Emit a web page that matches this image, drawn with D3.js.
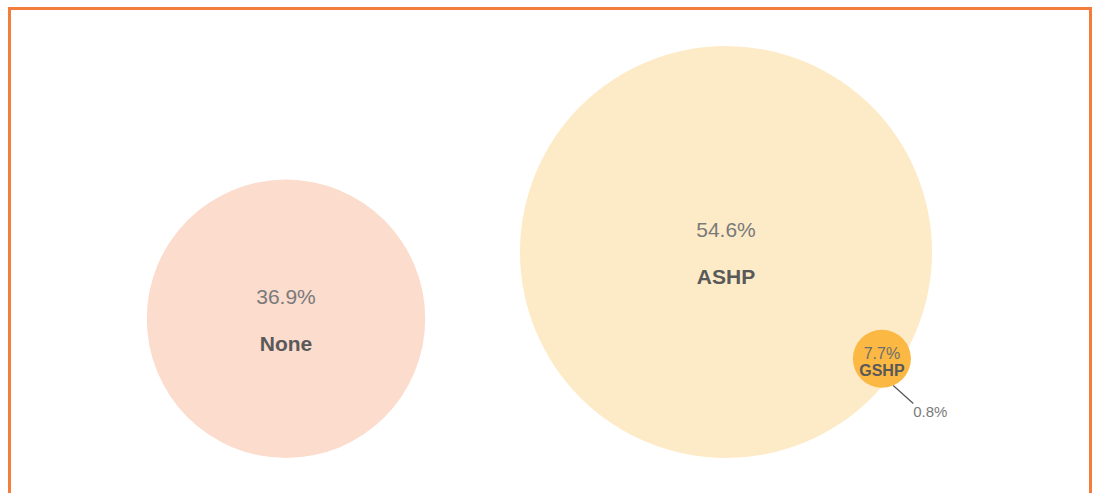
<!DOCTYPE html>
<html lang="en">
<head>
<meta charset="utf-8">
<title>Heat pump share</title>
<script src="https://d3js.org/d3.v7.min.js"></script>
<style>
  html, body { margin: 0; padding: 0; background: #fff; }
  svg { display: block; font-family: "Liberation Sans", Arial, Helvetica, sans-serif; }
</style>
</head>
<body>
<div id="chart"></div>
<script>
// data
var categories = ["None", "ASHP", "GSHP"];
var shares = [36.9, 54.6, 7.7];
var overlapShare = 0.8;   // GSHP also with ASHP
var fills = ["#fbdccd", "#fdebc8", "#fbb843"];

var width = 1097, height = 493;
var baseY = 458;

var svg = d3.select("#chart").append("svg")
  .attr("width", width)
  .attr("height", height);

// frame
svg.append("rect")
  .attr("x", 9.5).attr("y", 8.5)
  .attr("width", 1081).attr("height", 520)
  .attr("fill", "none")
  .attr("stroke", "#f47d3b")
  .attr("stroke-width", 3);

// radius is linear in the share
var r = d3.scaleLinear().domain([0, d3.max(shares)]).range([0, 206]);

// the two big circles sit side by side on a common bottom line
var x = d3.scaleBand().domain(categories.slice(0, 2)).range([66, 946]);

var nodes = categories.map(function(c, i) {
  return { name: c, value: shares[i], r: r(shares[i]), fill: fills[i] };
});
nodes[0].x = x("None") + x.bandwidth() / 2;
nodes[1].x = x("ASHP") + x.bandwidth() / 2;
nodes[0].y = baseY - nodes[0].r;
nodes[1].y = baseY - nodes[1].r;

// GSHP sits on the lower right rim of ASHP, poking a bit outside
var ang = 34.4 * Math.PI / 180;
var dist = nodes[1].r - nodes[2].r + 12;
nodes[2].x = nodes[1].x + dist * Math.cos(ang);
nodes[2].y = nodes[1].y + dist * Math.sin(ang);

svg.selectAll("circle.bub")
  .data(nodes)
  .enter().append("circle")
  .attr("class", "bub")
  .attr("cx", function(d) { return d.x; })
  .attr("cy", function(d) { return d.y; })
  .attr("r", function(d) { return d.r; })
  .attr("fill", function(d) { return d.fill; });

var big = nodes.slice(0, 2);
svg.selectAll("text.pct")
  .data(big)
  .enter().append("text")
  .attr("class", "pct")
  .attr("x", function(d) { return d.x; })
  .attr("y", function(d) { return d.y - 15; })
  .attr("text-anchor", "middle")
  .attr("font-size", 21)
  .attr("fill", "#7a7a7a")
  .text(function(d) { return d.value.toFixed(1) + "%"; });

svg.selectAll("text.nm")
  .data(big)
  .enter().append("text")
  .attr("class", "nm")
  .attr("x", function(d) { return d.x; })
  .attr("y", function(d) { return d.y + 32; })
  .attr("text-anchor", "middle")
  .attr("font-size", 21)
  .attr("font-weight", "bold")
  .attr("fill", "#595959")
  .text(function(d) { return d.name; });

// small circle labels
var g = nodes[2];
svg.append("text")
  .attr("x", g.x).attr("y", g.y)
  .attr("text-anchor", "middle")
  .attr("font-size", 16)
  .attr("fill", "#6e6e6e")
  .text(g.value.toFixed(1) + "%");
svg.append("text")
  .attr("x", g.x).attr("y", g.y + 17)
  .attr("text-anchor", "middle")
  .attr("font-size", 16)
  .attr("font-weight", "bold")
  .attr("fill", "#595959")
  .text(g.name);

// overlap callout
var la = 67 * Math.PI / 180;
var lx0 = g.x + g.r * Math.cos(la), ly0 = g.y + g.r * Math.sin(la);
svg.append("line")
  .attr("x1", lx0).attr("y1", ly0)
  .attr("x2", lx0 + 20).attr("y2", ly0 + 18)
  .attr("stroke", "#555")
  .attr("stroke-width", 1.2);
svg.append("text")
  .attr("x", lx0 + 20).attr("y", ly0 + 32)
  .attr("font-size", 15)
  .attr("fill", "#7a7a7a")
  .text(overlapShare.toFixed(1) + "%");
</script>
</body>
</html>
